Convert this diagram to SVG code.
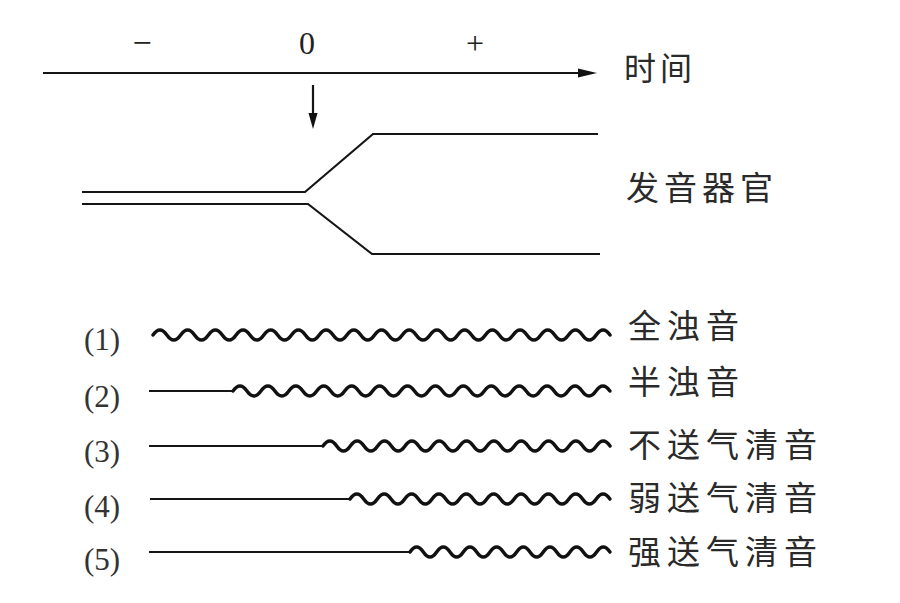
<svg xmlns="http://www.w3.org/2000/svg" width="900" height="603" viewBox="0 0 900 603">
<style>
.ln{fill:none;stroke:#151515;stroke-width:2.2;stroke-linecap:butt}
.wv{fill:none;stroke:#111;stroke-width:3.4;stroke-linejoin:round;stroke-linecap:round}
.lat{font-family:"Liberation Serif","Times New Roman",serif;fill:#222}
.num{font-family:"Liberation Serif","Times New Roman",serif;fill:#333;font-size:31px}
.cjk{font-family:"Noto Sans CJK SC","Noto Sans CJK TC",sans-serif;fill:#2a2a2a}
.ah{fill:#111}
</style>
<rect width="900" height="603" fill="#fff"/>
<g id="time-axis">
<text class="lat" x="142" y="54" font-size="34" text-anchor="middle">−</text>
<text class="lat" x="307" y="54" font-size="32" text-anchor="middle">0</text>
<text class="lat" x="475" y="54" font-size="32" text-anchor="middle">+</text>
<text class="cjk" x="624" y="80" font-size="32" letter-spacing="4">时间</text>
</g>
<g id="connectors">
<line class="ln" x1="43" y1="73" x2="582" y2="73"/>
<polygon class="ah" points="597,73 578,68.5 578,77.5"/>
<line class="ln" x1="313" y1="85" x2="313" y2="116"/>
<polygon class="ah" points="313,129 308.5,113 317.5,113"/>
</g>
<g id="organ">
<polyline class="ln" points="82,192 305,192 373,134 598,134"/>
<polyline class="ln" points="82,204 308,204 372,254 600,254"/>
<text class="cjk" x="626" y="200" font-size="33" letter-spacing="5">发音器官</text>
</g>
<g id="row1">
<text class="num" x="84" y="350">(1)</text>
<path class="wv" d="M153,335 q6.925,-10 13.85,0 t13.85,0 t13.85,0 t13.85,0 t13.85,0 t13.85,0 t13.85,0 t13.85,0 t13.85,0 t13.85,0 t13.85,0 t13.85,0 t13.85,0 t13.85,0 t13.85,0 t13.85,0 t13.85,0 t13.85,0 t13.85,0 t13.85,0 t13.85,0 t13.85,0 t13.85,0 t13.85,0 t13.85,0 t13.85,0 t13.85,0 t13.85,0 t13.85,0 t13.85,0 t13.85,0 t13.85,0 t13.85,0"/>
<text class="cjk" x="628" y="338" font-size="33" letter-spacing="6">全浊音</text>
</g>
<g id="row2">
<text class="num" x="84" y="407">(2)</text>
<path class="ln" d="M149,391 H233"/>
<path class="wv" d="M233,391 q6.98,-10 13.96,0 t13.96,0 t13.96,0 t13.96,0 t13.96,0 t13.96,0 t13.96,0 t13.96,0 t13.96,0 t13.96,0 t13.96,0 t13.96,0 t13.96,0 t13.96,0 t13.96,0 t13.96,0 t13.96,0 t13.96,0 t13.96,0 t13.96,0 t13.96,0 t13.96,0 t13.96,0 t13.96,0 t13.96,0 t13.96,0 t13.96,0"/>
<text class="cjk" x="628" y="394" font-size="33" letter-spacing="6">半浊音</text>
</g>
<g id="row3">
<text class="num" x="84" y="462">(3)</text>
<path class="ln" d="M149,446 H323"/>
<path class="wv" d="M323,446 q6.835,-10 13.67,0 t13.67,0 t13.67,0 t13.67,0 t13.67,0 t13.67,0 t13.67,0 t13.67,0 t13.67,0 t13.67,0 t13.67,0 t13.67,0 t13.67,0 t13.67,0 t13.67,0 t13.67,0 t13.67,0 t13.67,0 t13.67,0 t13.67,0 t13.67,0"/>
<text class="cjk" x="628" y="457" font-size="33" letter-spacing="6">不送气清音</text>
</g>
<g id="row4">
<text class="num" x="84" y="517">(4)</text>
<path class="ln" d="M150,499 H350"/>
<path class="wv" d="M350,499 q6.84,-10 13.68,0 t13.68,0 t13.68,0 t13.68,0 t13.68,0 t13.68,0 t13.68,0 t13.68,0 t13.68,0 t13.68,0 t13.68,0 t13.68,0 t13.68,0 t13.68,0 t13.68,0 t13.68,0 t13.68,0 t13.68,0 t13.68,0"/>
<text class="cjk" x="628" y="510" font-size="33" letter-spacing="6">弱送气清音</text>
</g>
<g id="row5">
<text class="num" x="84" y="570">(5)</text>
<path class="ln" d="M149,552 H410"/>
<path class="wv" d="M410,552 q6.665,-10 13.33,0 t13.33,0 t13.33,0 t13.33,0 t13.33,0 t13.33,0 t13.33,0 t13.33,0 t13.33,0 t13.33,0 t13.33,0 t13.33,0 t13.33,0 t13.33,0 t13.33,0"/>
<text class="cjk" x="628" y="564" font-size="33" letter-spacing="6">强送气清音</text>
</g>
</svg>
